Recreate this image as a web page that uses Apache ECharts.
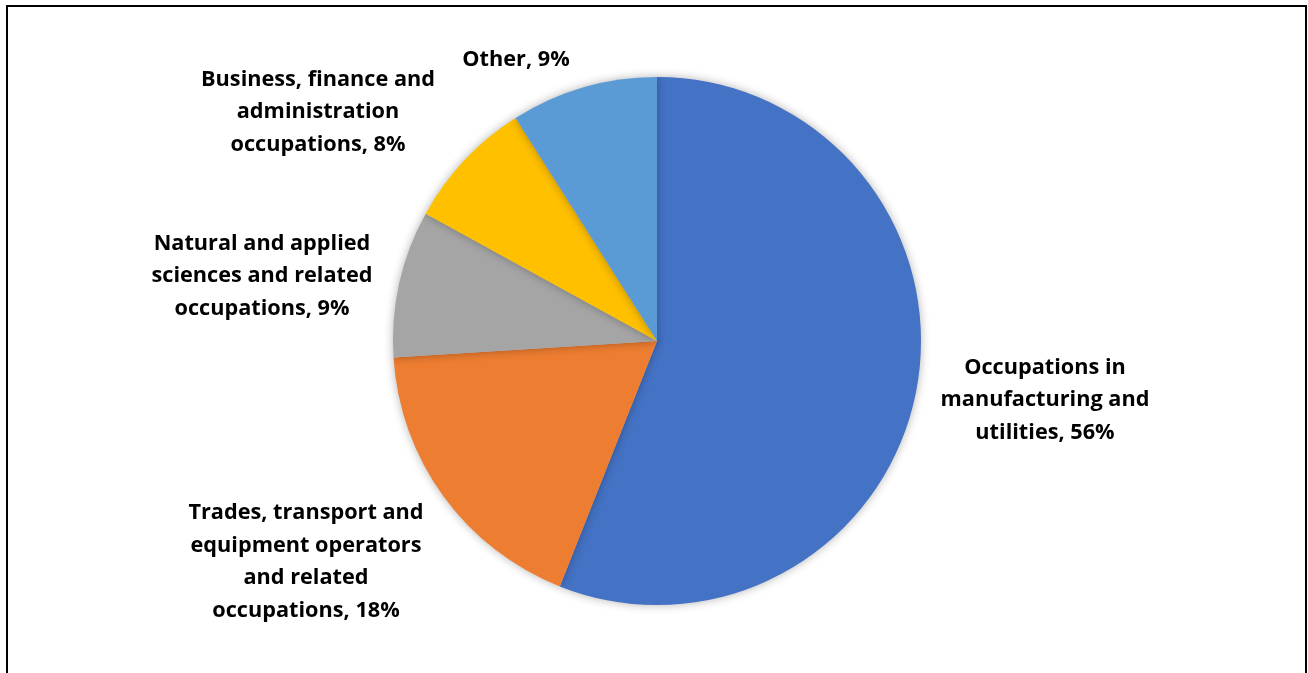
<!DOCTYPE html>
<html>
<head>
<meta charset="utf-8">
<script src="https://cdn.jsdelivr.net/npm/echarts@6/dist/echarts.min.js"></script>
<style>
  html, body { margin: 0; padding: 0; background: #fff; }
  #chart { width: 1308px; height: 673px; }
</style>
</head>
<body>
<div id="chart"></div>
<script>
// Occupation categories and their shares (%)
const categories = [
  'Occupations in\nmanufacturing and\nutilities',
  'Trades, transport and\nequipment operators\nand related\noccupations',
  'Natural and applied\nsciences and related\noccupations',
  'Business, finance and\nadministration\noccupations',
  'Other'
];
const shares = [56, 18, 9, 8, 9];
const sliceColors = ['#4472C4', '#ED7D31', '#A5A5A5', '#FFC000', '#5B9BD5'];

// Label anchor points (centre of each text block)
const labelAnchors = [[1045, 400], [306, 562], [262, 276], [318, 112], [516, 60]];

const chart = echarts.init(document.getElementById('chart'), null, { renderer: 'canvas' });

chart.setOption({
  backgroundColor: '#fff',
  animation: false,
  graphic: [{
    type: 'rect',
    shape: { x: 7, y: 6, width: 1299, height: 700 },
    style: { fill: 'none', stroke: '#000', lineWidth: 2 },
    silent: true,
    z: 10
  }],
  series: [{
    type: 'pie',
    center: [657, 341],
    radius: 264,
    startAngle: 90,
    clockwise: true,
    avoidLabelOverlap: false,
    data: categories.map((name, i) => ({
      name: name,
      value: shares[i],
      itemStyle: { color: sliceColors[i] }
    })),
    itemStyle: {
      borderWidth: 0,
      shadowBlur: 10,
      shadowColor: 'rgba(0,0,0,0.3)'
    },
    label: {
      show: true,
      position: 'outside',
      formatter: p => p.name + ', ' + p.value + '%',
      fontFamily: '"Open Sans", sans-serif',
      fontWeight: 'bold',
      fontSize: 21.7,
      lineHeight: 32.5,
      color: '#000',
      align: 'center'
    },
    labelLine: { show: false },
    labelLayout: function (params) {
      const a = labelAnchors[params.dataIndex];
      return { x: a[0], y: a[1], align: 'center', verticalAlign: 'middle' };
    }
  }]
});
</script>
</body>
</html>
